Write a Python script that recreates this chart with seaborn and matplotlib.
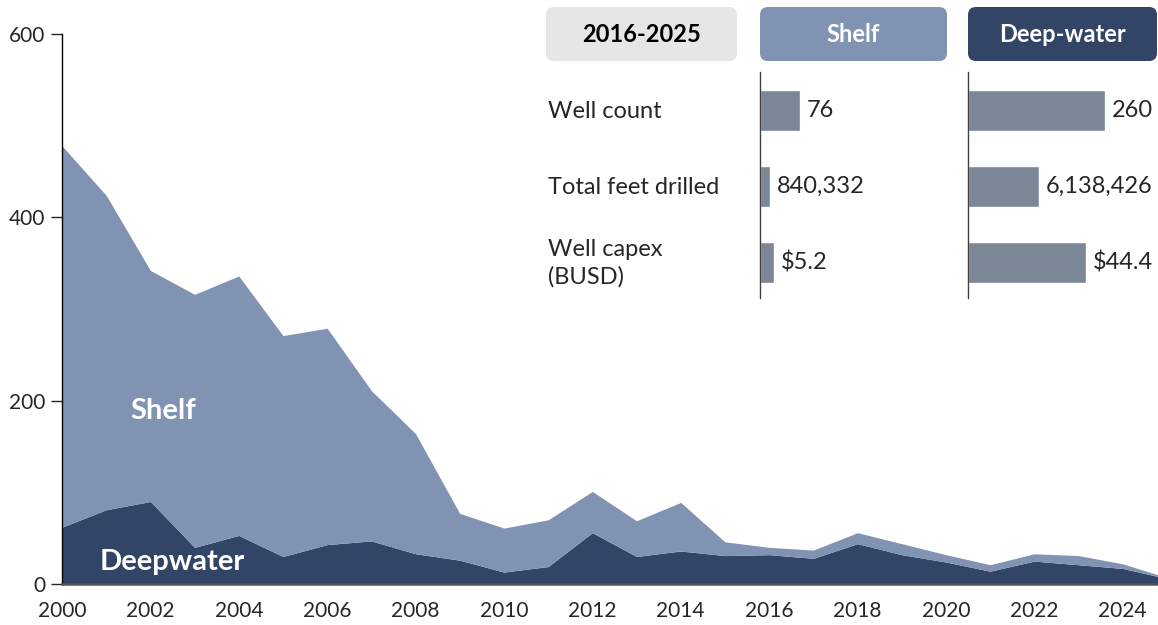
import pandas as pd
import matplotlib.pyplot as plt
import matplotlib.transforms as mtransforms
from matplotlib.patches import FancyBboxPatch
import seaborn as sns

# Wells drilled per year
years = list(range(2000, 2026))
deepwater = [62, 81, 90, 40, 53, 30, 43, 47, 33, 26, 13, 19, 56, 30, 36, 31,
             32, 28, 44, 32, 24, 14, 25, 21, 17, 6]
shelf = [416, 343, 252, 276, 283, 241, 236, 164, 131, 51, 48, 51, 45, 39, 53, 15,
         8, 9, 12, 12, 8, 7, 8, 10, 5, 1]

# 2016-2025 summary table
metrics = ['Well count', 'Total feet drilled', 'Well capex\n(BUSD)']
shelf_stats = [76, 840332, 5.2]
deep_stats = [260, 6138426, 44.4]
value_fmt = ['{:,.0f}', '{:,.0f}', '${:.1f}']

# layout: value that would fill a whole table column, per metric
col_full = [356, 16.3e6, 71]

SHELF_C = '#8093B3'
DEEP_C = '#334567'
BAR_C = '#7B8797'
W, H = 1158, 625

sns.set_style('white')
plt.rcParams['font.family'] = ['Lato', 'DejaVu Sans']

fig = plt.figure(figsize=(W / 100, H / 100), dpi=100)
# pixel coordinates, origin top-left
px = mtransforms.Affine2D().scale(1 / W, -1 / H).translate(0, 1) + fig.transFigure

# main stacked area
ax = fig.add_axes([62 / W, 41 / H, (W - 62) / W, 550 / H])
ax.stackplot(years, deepwater, shelf, colors=[DEEP_C, SHELF_C], linewidth=0)
ax.set_xlim(2000, 2024.8)
ax.set_ylim(0, 600)
ax.set_xticks(range(2000, 2025, 2))
ax.set_yticks([0, 200, 400, 600])
ax.tick_params(axis='x', length=0, pad=12, labelsize=15)
ax.tick_params(axis='y', length=8, width=1, pad=4, labelsize=15, left=True)
for s in ['top', 'right']:
    ax.spines[s].set_visible(False)
ax.spines['left'].set_color('black')
ax.spines['left'].set_linewidth(1)
ax.spines['bottom'].set_color('#555555')
ax.spines['bottom'].set_linewidth(1.8)
ax.grid(False)

ax.text(2002.3, 189, 'Shelf', color='white', fontsize=21, fontweight='bold',
        ha='center', va='center')
ax.text(2002.5, 24, 'Deepwater', color='white', fontsize=21, fontweight='bold',
        ha='center', va='center')

# header boxes
headers = [('2016-2025', 546, 191, '#E6E6E6', 'black'),
           ('Shelf', 760, 187, SHELF_C, 'white'),
           ('Deep-water', 968, 189, DEEP_C, 'white')]
for label, x0, w, fc, tc in headers:
    box = FancyBboxPatch((x0, 7), w, 54, boxstyle='round,pad=0,rounding_size=8',
                         transform=px, facecolor=fc, edgecolor='none')
    fig.add_artist(box)
    fig.text(x0 + w / 2, 35, label, transform=px, ha='center', va='center',
             fontsize=17, fontweight='bold', color=tc)

# row labels
row_y = [111, 187, 263]
for m, y in zip(metrics, row_y):
    fig.text(548, y, m, transform=px, ha='left', va='center', fontsize=17,
             linespacing=1.35)

# bar columns
for x0, stats in [(760, shelf_stats), (968, deep_stats)]:
    iax = fig.add_axes([x0 / W, (H - 298) / H, 188 / W, 226 / H])
    df = pd.DataFrame({'metric': metrics,
                       'frac': [v / f for v, f in zip(stats, col_full)]})
    sns.barplot(data=df, y='metric', x='frac', orient='h', color=BAR_C,
                saturation=1, width=0.54, ax=iax)
    iax.set_xlim(0, 1)
    iax.set_ylim(2.47, -0.5)
    iax.set_xticks([])
    iax.set_yticks([])
    iax.set_xlabel('')
    iax.set_ylabel('')
    iax.patch.set_alpha(0)
    for s in ['top', 'right', 'bottom']:
        iax.spines[s].set_visible(False)
    iax.spines['left'].set_color('#404040')
    iax.spines['left'].set_linewidth(1)
    for i, (v, fmt) in enumerate(zip(stats, value_fmt)):
        iax.text(df['frac'][i] + 7 / 188, i, fmt.format(v), va='center',
                 ha='left', fontsize=17)

fig.savefig('out.png', dpi=100)
